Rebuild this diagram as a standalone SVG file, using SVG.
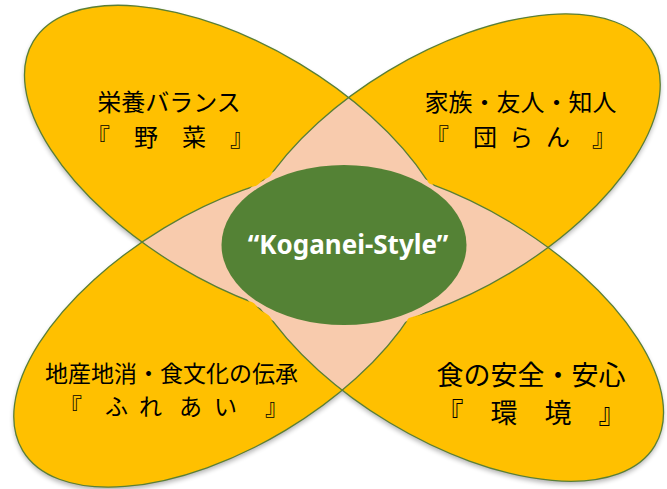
<svg xmlns="http://www.w3.org/2000/svg" xmlns:xlink="http://www.w3.org/1999/xlink" width="667" height="489" viewBox="0 0 667 489">
<style>
.leaf{fill:#FFC000;stroke:none}
.peach{fill:#F8CBAD;stroke:none}
.line{fill:none;stroke:#5A7F36;stroke-width:1.3}
.jp{font-family:"Noto Sans CJK JP","Noto Sans CJK SC",sans-serif;fill:#000}
.f24{font-size:24px}
.f23{font-size:23px}
.f27{font-size:27px}
.title{font-family:"Noto Sans","Liberation Sans",sans-serif;font-weight:bold;font-size:26px;fill:#fff}
</style>
<defs>
<ellipse id="eTL" cx="239" cy="165" rx="240" ry="118" transform="rotate(31 239 165)"/>
<ellipse id="eTR" cx="449" cy="172" rx="236" ry="118" transform="rotate(-31 449 172)"/>
<ellipse id="eBL" cx="225" cy="329" rx="236" ry="118" transform="rotate(-31 225 329)"/>
<ellipse id="eBR" cx="450" cy="322.5" rx="239" ry="117" transform="rotate(31 450 322.5)"/>
<clipPath id="cTL"><use xlink:href="#eTL"/></clipPath>
<clipPath id="cTR"><use xlink:href="#eTR"/></clipPath>
<clipPath id="cBL"><use xlink:href="#eBL"/></clipPath>
<clipPath id="cBR"><use xlink:href="#eBR"/></clipPath>
<filter id="blur" x="-10%" y="-10%" width="120%" height="120%"><feGaussianBlur stdDeviation="2.5"/></filter>
<filter id="dil" filterUnits="userSpaceOnUse" x="0" y="0" width="667" height="489"><feMorphology operator="dilate" radius="2"/></filter>
<mask id="mInner" maskUnits="userSpaceOnUse" x="0" y="0" width="667" height="489">
<rect width="667" height="489" fill="#fff"/>
<g filter="url(#dil)">
<g clip-path="url(#cTL)"><g clip-path="url(#cTR)"><use xlink:href="#eBL" fill="#000"/><use xlink:href="#eBR" fill="#000"/></g></g>
<g clip-path="url(#cBL)"><g clip-path="url(#cBR)"><use xlink:href="#eTL" fill="#000"/><use xlink:href="#eTR" fill="#000"/></g></g>
</g>
</mask>
</defs>
<g id="shadow" filter="url(#blur)" opacity="0.3" transform="translate(0 3)" fill="#000">
<use xlink:href="#eTL"/><use xlink:href="#eTR"/><use xlink:href="#eBL"/><use xlink:href="#eBR"/>
</g>
<g id="leaf-top-left">
<use xlink:href="#eTL" class="leaf"/>
<text class="jp f24" x="169" y="111" text-anchor="middle">栄養バランス</text>
<text class="jp f24" x="170" y="146" text-anchor="middle">『　野　菜　』</text>
</g>
<g id="leaf-top-right">
<use xlink:href="#eTR" class="leaf"/>
<text class="jp f24" x="520.5" y="111" text-anchor="middle">家族・友人・知人</text>
<text class="jp f24" x="425 450 473 498 509 533 546 570 592" y="146">『　団　ら　ん　』</text>
</g>
<g id="leaf-bottom-left">
<use xlink:href="#eBL" class="leaf"/>
<text class="jp f23" x="171.5" y="381.5" text-anchor="middle">地産地消・食文化の伝承</text>
<text class="jp f23" x="59 82 105 128 139 162 179 202 214 237 265" y="415">『　ふ　れ　あ　い　』</text>
</g>
<g id="leaf-bottom-right">
<use xlink:href="#eBR" class="leaf"/>
<text class="jp f27" x="531" y="385" text-anchor="middle">食の安全・安心</text>
<text class="jp f27" x="531" y="423" text-anchor="middle">『　環　境　』</text>
</g>
<g id="connectors">
<g id="overlaps">
<g clip-path="url(#cTL)"><use xlink:href="#eTR" class="peach"/><use xlink:href="#eBL" class="peach"/><use xlink:href="#eBR" class="peach"/></g>
<g clip-path="url(#cTR)"><use xlink:href="#eBR" class="peach"/><use xlink:href="#eBL" class="peach"/></g>
<g clip-path="url(#cBL)"><use xlink:href="#eBR" class="peach"/></g>
</g>
<g id="outlines" mask="url(#mInner)">
<use xlink:href="#eTL" class="line"/><use xlink:href="#eTR" class="line"/><use xlink:href="#eBL" class="line"/><use xlink:href="#eBR" class="line"/>
</g>
</g>
<g id="center-node">
<ellipse cx="344" cy="245" rx="122.5" ry="80" fill="#548235"/>
<text class="title" x="348" y="254" text-anchor="middle">“Koganei-Style”</text>
</g>
</svg>
